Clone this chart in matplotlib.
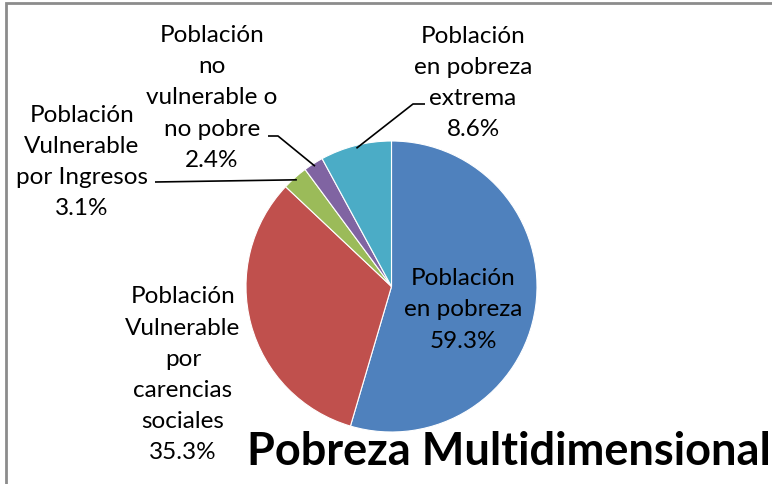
import numpy as np
import matplotlib.pyplot as plt

# datos
categorias = ['Población\nen pobreza', 'Población\nVulnerable\npor\ncarencias\nsociales',
              'Población\nVulnerable\npor Ingresos', 'Población\nno\nvulnerable o\nno pobre',
              'Población\nen pobreza\nextrema']
porcentajes = [59.3, 35.3, 3.1, 2.4, 8.6]
colores = ['#4F81BD', '#C0504D', '#9BBB59', '#8064A2', '#4BACC6']

W, H = 772, 485
fig = plt.figure(figsize=(W / 100, H / 100), dpi=100)
ax = fig.add_axes([0, 0, 1, 1])

cx, cy, r = 391.5, H - 287.5, 145.5
wedges, _ = ax.pie(porcentajes, colors=colores, startangle=90, counterclock=False,
                   center=(cx, cy), radius=r, frame=True,
                   wedgeprops=dict(edgecolor='white', linewidth=0.8))
ax.set_xlim(0, W)
ax.set_ylim(0, H)
ax.set_aspect('equal')
ax.axis('off')

fuente = 'Lato'
fs = 17.5

def punto_borde(w, frac=1.0):
    ang = np.deg2rad((w.theta1 + w.theta2) / 2)
    return cx + frac * r * np.cos(ang), cy + frac * r * np.sin(ang)

def etiqueta(i, x, y):
    ax.text(x, H - y, f'{categorias[i]}\n{porcentajes[i]}%', ha='center', va='center',
            fontsize=fs, family=fuente, linespacing=1.6, color='black')

etiqueta(0, 463, 310)
etiqueta(1, 183, 375)
etiqueta(2, 82, 162)
etiqueta(3, 212, 98)
etiqueta(4, 473, 83)

# líneas guía
def guia(w, puntos):
    x0, y0 = punto_borde(w, 0.98)
    xs = [x0] + [p[0] for p in puntos]
    ys = [y0] + [H - p[1] for p in puntos]
    ax.plot(xs, ys, color='black', lw=1.2, solid_capstyle='butt')

guia(wedges[2], [(155, 183)])
guia(wedges[3], [(278, 137), (268, 137)])
guia(wedges[4], [(413, 105), (425, 105)])

ax.text(509, H - 452, 'Pobreza Multidimensional', ha='center', va='center',
        fontsize=32.5, family=fuente, fontweight='bold', color='black')

# marco gris
ax.plot([6, 6, W], [0, H - 4, H - 4], color='#8C8C8C', lw=2, solid_joinstyle='miter')

fig.savefig('out.png', dpi=100)
